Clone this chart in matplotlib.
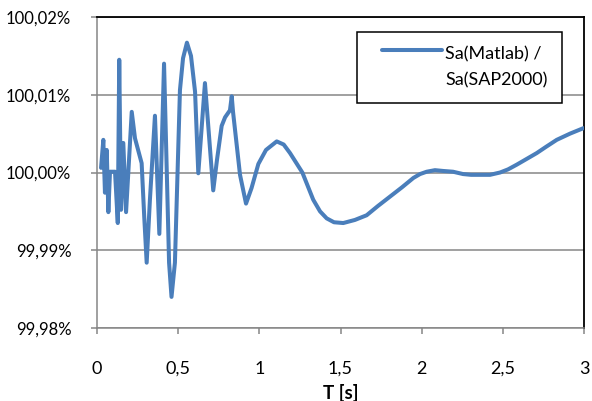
import matplotlib
matplotlib.use("Agg")
import matplotlib.pyplot as plt
import numpy as np
from matplotlib.ticker import FuncFormatter

# period T [s] and spectral acceleration ratio Sa(Matlab)/Sa(SAP2000) [%]
period_s = [
    0.025, 0.039, 0.049, 0.060, 0.070, 0.080, 0.111, 0.128, 0.137, 0.148,
    0.162, 0.179, 0.214, 0.234, 0.275, 0.291, 0.306, 0.326, 0.357, 0.384,
    0.413, 0.444, 0.459, 0.480, 0.511, 0.530, 0.554, 0.579, 0.604, 0.624,
    0.665, 0.716, 0.739, 0.768, 0.789, 0.819, 0.830, 0.838, 0.881, 0.918,
    0.952, 0.994, 1.041, 1.107, 1.150, 1.189, 1.265, 1.332, 1.374, 1.415,
    1.460, 1.517, 1.589, 1.661, 1.731, 1.805, 1.879, 1.949, 1.990, 2.031,
    2.082, 2.131, 2.193, 2.255, 2.304, 2.359, 2.421, 2.483, 2.532, 2.585,
    2.643, 2.709, 2.766, 2.832, 2.914, 2.996,
]
ratio_pct = [
    100.0006, 100.0042, 99.9974, 100.0029, 99.9949, 100.0001, 100.0001, 99.9935, 100.0145, 99.9952,
    100.0038, 99.9949, 100.0078, 100.0044, 100.0012, 99.9943, 99.9884, 99.9965, 100.0073, 99.9921,
    100.0140, 99.9884, 99.9840, 99.9884, 100.0106, 100.0147, 100.0167, 100.0150, 100.0104, 99.9999,
    100.0115, 99.9977, 100.0016, 100.0060, 100.0071, 100.0080, 100.0098, 100.0078, 99.9997, 99.9960,
    99.9980, 100.0011, 100.0029, 100.0040, 100.0036, 100.0025, 100.0000, 99.9965, 99.9950, 99.9941,
    99.9936, 99.9935, 99.9939, 99.9945, 99.9957, 99.9969, 99.9981, 99.9993, 99.9998, 100.0001,
    100.0003, 100.0002, 100.0001, 99.9998, 99.9997, 99.9997, 99.9997, 100.0000, 100.0004, 100.0010,
    100.0017, 100.0025, 100.0033, 100.0042, 100.0050, 100.0057,
]
series_label = "Sa(Matlab) /\nSa(SAP2000)"
x_ticks = [0, 0.5, 1, 1.5, 2, 2.5, 3]
y_ticks = [99.98, 99.99, 100.00, 100.01, 100.02]

LINE_BLUE = "#4A7EBB"
GRID_GRAY = "#868686"

plt.rcParams["font.family"] = ["Lato", "DejaVu Sans"]

fig = plt.figure(figsize=(5.92, 4.01), dpi=100)
ax = fig.add_axes([97 / 592, 1 - 328 / 401, 487 / 592, 311 / 401])

ax.plot(period_s, ratio_pct, color=LINE_BLUE, linewidth=2.9,
        solid_joinstyle="round", solid_capstyle="round",
        label=series_label, zorder=3)

ax.set_xlim(0, 3)
ax.set_ylim(99.98, 100.02)
ax.set_xticks(x_ticks)
ax.set_yticks(y_ticks)
ax.xaxis.set_major_formatter(FuncFormatter(lambda v, _: f"{v:g}".replace(".", ",")))
ax.yaxis.set_major_formatter(FuncFormatter(lambda v, _: f"{v:.2f}%".replace(".", ",")))

ax.yaxis.grid(True, color=GRID_GRAY, linewidth=1.1)
ax.set_axisbelow(True)
for side in ("left", "bottom"):
    ax.spines[side].set_color(GRID_GRAY)
    ax.spines[side].set_linewidth(1.1)
for side in ("top", "right"):
    ax.spines[side].set_color("black")
    ax.spines[side].set_linewidth(1.3)

ax.tick_params(axis="y", direction="out", length=4.5, width=1.1, color=GRID_GRAY,
               pad=14, labelsize=12, labelcolor="black")
ax.tick_params(axis="x", direction="out", length=4.5, width=1.1, color=GRID_GRAY,
               pad=19, labelsize=13, labelcolor="black")
ax.set_xlabel("T [s]", fontweight="bold", fontsize=13.5, labelpad=5.5)

leg = ax.legend(loc="upper right", bbox_to_anchor=(562 / 592, 1 - 31.7 / 401),
                bbox_transform=fig.transFigure, fontsize=13, frameon=True,
                fancybox=False, shadow=False, framealpha=1, edgecolor="black",
                borderpad=0.8, handlelength=3.9, handletextpad=0.2, borderaxespad=0)
leg.get_frame().set_linewidth(1.1)
for t in leg.get_texts():
    t.set_linespacing(1.75)

# Excel puts the legend key beside the first label line, inset from the frame
fig.canvas.draw()
key = leg.get_lines()[0]
kx = np.asarray(key.get_xdata(), dtype=float)
key.set_data([kx[0] + 0.15 * (kx[-1] - kx[0]), kx[-1]],
             np.asarray(key.get_ydata(), dtype=float)[[0, -1]] + 12.5)

fig.savefig("out.png", dpi=100)
